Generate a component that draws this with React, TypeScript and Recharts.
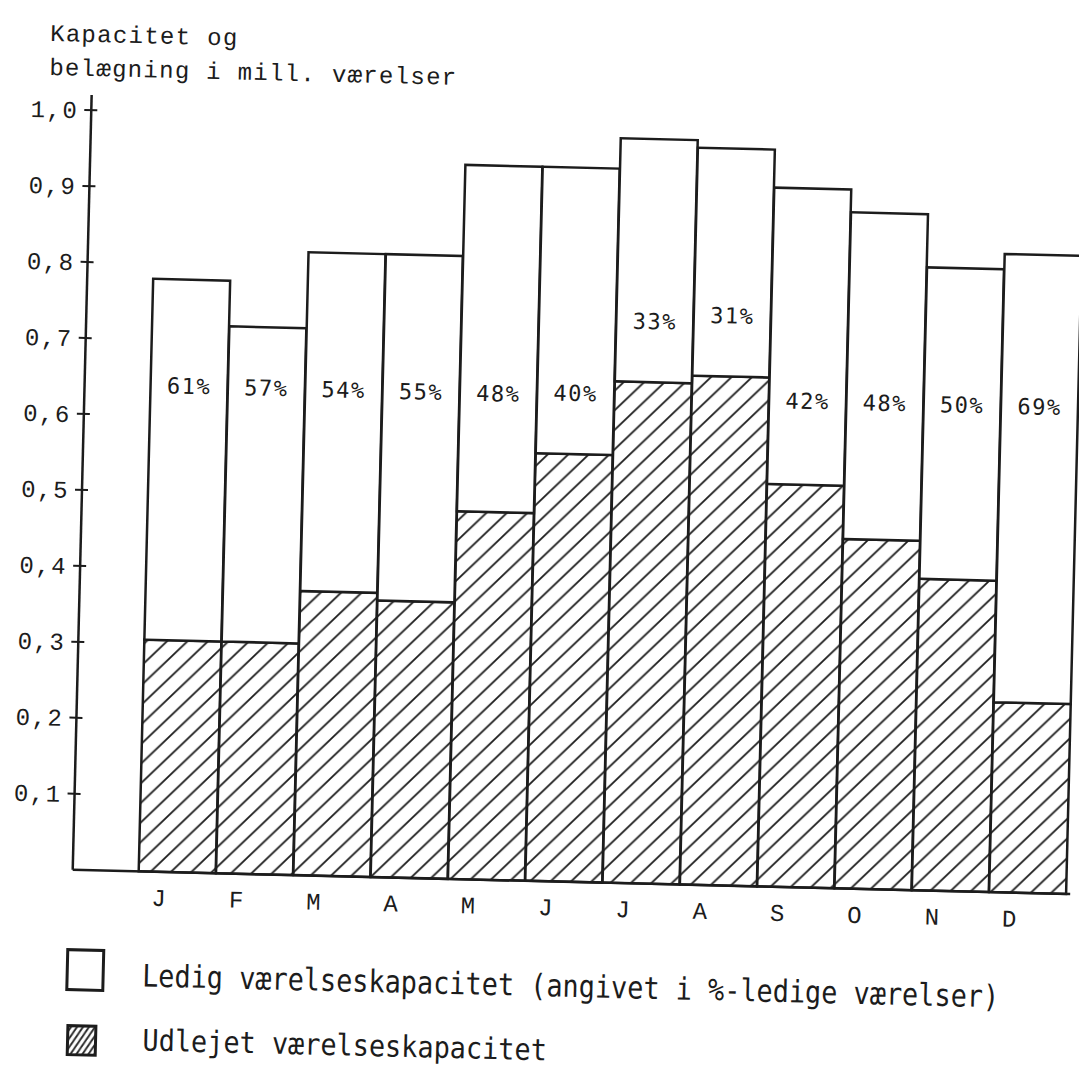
import React from 'react';
import { BarChart, Bar, XAxis, YAxis, Legend, LabelList } from 'recharts';

// månederne (kategorier)
const months = ['J', 'F', 'M', 'A', 'M', 'J', 'J', 'A', 'S', 'O', 'N', 'D'];
// samlet kapacitet, mill. værelser
const capacity = [0.78, 0.72, 0.82, 0.82, 0.94, 0.94, 0.98, 0.97, 0.92, 0.89, 0.82, 0.84];
// udlejet (belægning), mill. værelser
const occupied = [0.305, 0.305, 0.374, 0.364, 0.484, 0.563, 0.66, 0.67, 0.53, 0.46, 0.41, 0.25];
// ledige værelser i procent
const vacantPct = ['61%', '57%', '54%', '55%', '48%', '40%', '33%', '31%', '42%', '48%', '50%', '69%'];
const yTicks = [0.1, 0.2, 0.3, 0.4, 0.5, 0.6, 0.7, 0.8, 0.9, 1.0];

const occupiedName = 'Udlejet værelseskapacitet';
const vacantName = 'Ledig værelseskapacitet (angivet i %-ledige værelser)';

const INK = '#1c1c1c';
const TYPE_FONT = '"Liberation Mono", monospace';
const GOTHIC_FONT = '"DejaVu Sans Mono", monospace';

const data = months.map((m, i) => ({
  month: m,
  occupied: occupied[i],
  vacant: +(capacity[i] - occupied[i]).toFixed(3),
  pct: vacantPct[i],
}));

const YTick = (props: any) => {
  const { x, y, payload } = props;
  return (
    <g>
      <line x1={x - 7} x2={x + 6} y1={y} y2={y} stroke={INK} strokeWidth={2} />
      <text
        x={x - 13}
        y={y}
        dy="0.35em"
        textAnchor="end"
        fontFamily={TYPE_FONT}
        fontSize={24}
        letterSpacing={1.5}
        fill={INK}
      >
        {Number(payload.value).toFixed(1).replace('.', ',')}
      </text>
    </g>
  );
};

const XTick = (props: any) => {
  const { x, y, payload } = props;
  return (
    <text x={x - 18} y={y + 34} textAnchor="middle" fontFamily={TYPE_FONT} fontSize={24} fill={INK}>
      {payload.value}
    </text>
  );
};

const PctLabel = (props: any) => {
  const vb = props.viewBox || props;
  const { x, y, width, height } = vb;
  const i = props.index;
  if (i === undefined || i === null) return null;
  const unit = height / (capacity[i] - occupied[i]);
  const level = Math.max(0.64, occupied[i] + 0.08);
  const cy = y + height - (level - occupied[i]) * unit;
  return (
    <text
      x={x + width / 2}
      y={cy}
      dy="0.35em"
      textAnchor="middle"
      fontFamily={GOTHIC_FONT}
      fontSize={22}
      letterSpacing={1.5}
      fill={INK}
    >
      {vacantPct[i]}
    </text>
  );
};

const Title = () => (
  <g fontFamily={TYPE_FONT} fontSize={24} letterSpacing={1.3} fill={INK}>
    <text x={38} y={53}>Kapacitet og</text>
    <text x={38} y={87}>belægning i mill. værelser</text>
  </g>
);

const renderLegend = (props: any) => {
  const items = props.payload || [];
  const vac = items.find((p: any) => p.dataKey === 'vacant');
  const occ = items.find((p: any) => p.dataKey === 'occupied');
  return (
    <svg width={1079} height={140} style={{ overflow: 'visible', display: 'block' }}>
      <defs>
        <pattern id="hatchDense" patternUnits="userSpaceOnUse" width={7} height={7} patternTransform="rotate(-12)">
          <rect width={7} height={7} fill="#fff" />
          <path d="M-2,2 L2,-2 M0,7 L7,0 M5,9 L9,5" stroke={INK} strokeWidth={1.8} />
        </pattern>
      </defs>
      <rect x={78} y={31} width={36} height={40} fill="#fff" stroke={INK} strokeWidth={3} />
      <text
        transform="translate(153,66) scale(0.867,1)"
        fontFamily={GOTHIC_FONT}
        fontSize={31}
        fill={INK}
      >
        {vac ? vac.value : vacantName}
      </text>
      <rect x={80} y={107} width={28} height={29} fill="url(#hatchDense)" stroke={INK} strokeWidth={3} />
      <text
        transform="translate(155,130) scale(0.867,0.96)"
        fontFamily={GOTHIC_FONT}
        fontSize={31}
        fill={INK}
      >
        {occ ? occ.value : occupiedName}
      </text>
    </svg>
  );
};

export default function App() {
  return (
    <div
      style={{
        position: 'fixed',
        left: 0,
        top: 0,
        width: 1079,
        height: 1073,
        overflow: 'hidden',
        background: '#fff',
      }}
    >
      <div style={{ width: 1079, height: 1073, transform: 'rotate(1.4deg)', transformOrigin: '50% 50%' }}>
        <BarChart
          width={1079}
          height={1073}
          data={data}
          margin={{ top: 106, right: 0, bottom: 152, left: 0 }}
          barCategoryGap={0}
          barGap={0}
        >
          <defs>
            <pattern id="hatch" patternUnits="userSpaceOnUse" width={20} height={20}>
              <rect width={20} height={20} fill="#fff" />
              <path d="M-5,5 L5,-5 M0,20 L20,0 M15,25 L25,15" stroke={INK} strokeWidth={1.8} />
            </pattern>
          </defs>
          <XAxis
            dataKey="month"
            height={40}
            padding={{ left: 66, right: 4 }}
            axisLine={{ stroke: INK, strokeWidth: 2.5 }}
            tickLine={false}
            tickSize={0}
            tickMargin={0}
            tick={<XTick />}
            interval={0}
          />
          <YAxis
            width={81}
            domain={[0, 1.02]}
            ticks={yTicks}
            axisLine={{ stroke: INK, strokeWidth: 2.5 }}
            tickLine={false}
            tickSize={0}
            tickMargin={0}
            tick={<YTick />}
            label={{ content: () => <Title /> }}
          />
          <Legend
            layout="vertical"
            align="center"
            verticalAlign="middle"
            wrapperStyle={{ left: 0, top: 930, width: 1079, height: 140 }}
            content={renderLegend}
          />
          <Bar
            dataKey="occupied"
            stackId="a"
            name={occupiedName}
            fill="url(#hatch)"
            stroke={INK}
            strokeWidth={2.5}
            isAnimationActive={false}
          />
          <Bar
            dataKey="vacant"
            stackId="a"
            name={vacantName}
            fill="#fff"
            stroke={INK}
            strokeWidth={2.5}
            isAnimationActive={false}
          >
            <LabelList dataKey="pct" content={PctLabel} />
          </Bar>
        </BarChart>
      </div>
    </div>
  );
}
